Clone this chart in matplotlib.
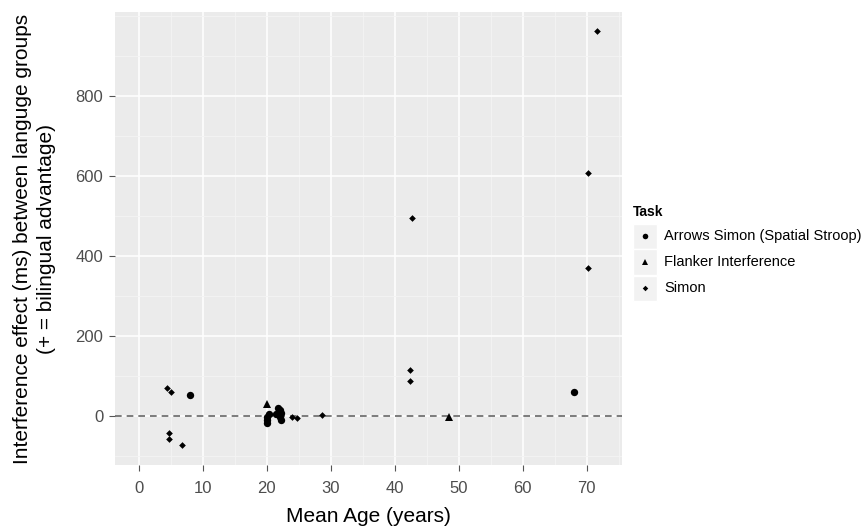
import matplotlib
matplotlib.use("Agg")
import matplotlib.pyplot as plt
from matplotlib.ticker import FixedLocator
from matplotlib.patches import Rectangle
from matplotlib.lines import Line2D

plt.rcParams['font.family'] = ['Liberation Sans', 'DejaVu Sans']

# Mean age (years) and interference effect (ms) per task
arrows_age = [8.0, 20.0, 20.0, 20.0, 20.3, 21.5, 22.0, 22.2, 22.0, 22.3, 21.8, 68.0]
arrows_eff = [52, -2, -10, -18, 5, 5, 15, 8, -2, -10, 20, 60]

flanker_age = [20.0, 48.4]
flanker_eff = [30, -2]

simon_age = [4.4, 5.0, 4.8, 4.7, 6.7, 23.9, 24.8, 28.7, 42.7, 42.4, 42.4, 70.2, 70.2, 71.6]
simon_eff = [70, 60, -42, -57, -72, -3, -5, 2, 495, 115, 88, 607, 370, 962]

tasks = ["Arrows Simon (Spatial Stroop)", "Flanker Interference", "Simon"]
markers = ['o', '^', 'D']
msizes = [5.3, 5.5, 3.4]
legend_sizes = [4, 5, 2.8]

x_ticks = [0, 10, 20, 30, 40, 50, 60, 70]
x_minor = [5, 15, 25, 35, 45, 55, 65, 75]
y_ticks = [0, 200, 400, 600, 800]
y_minor = [-100, 100, 300, 500, 700, 900, 1000]

fig = plt.figure(figsize=(8.67, 5.3), dpi=100)
ax = fig.add_axes([115 / 867, 1 - 465 / 530, 507 / 867, 453 / 530])
ax.set_facecolor('#EBEBEB')
for s in ax.spines.values():
    s.set_visible(False)

ax.set_xlim(-3.7, 75.5)
ax.set_ylim(-122, 1010)
ax.xaxis.set_major_locator(FixedLocator(x_ticks))
ax.xaxis.set_minor_locator(FixedLocator(x_minor))
ax.yaxis.set_major_locator(FixedLocator(y_ticks))
ax.yaxis.set_minor_locator(FixedLocator(y_minor))
ax.grid(which='major', color='white', linewidth=1.1)
ax.grid(which='minor', color='#F4F4F4', linewidth=0.6)
ax.set_axisbelow(True)
ax.tick_params(which='major', length=4.5, width=0.8, color='#555555',
               labelsize=12, labelcolor='#4D4D4D')
ax.tick_params(axis='y', pad=4)
ax.tick_params(axis='x', pad=7)
ax.tick_params(which='minor', length=0)

ax.axhline(0, color='#666666', linewidth=1.2, linestyle=(0, (4, 3)), zorder=2)

groups = [(arrows_age, arrows_eff), (flanker_age, flanker_eff), (simon_age, simon_eff)]
for (xs, ys), m, ms in zip(groups, markers, msizes):
    ax.plot(xs, ys, linestyle='none', marker=m, markersize=ms,
            color='black', markeredgewidth=0, zorder=3)

ax.set_xlabel('Mean Age (years)', fontsize=15, labelpad=8)
ax.set_ylabel('Interference effect (ms) between languge groups\n(+ = bilingual advantage)',
              fontsize=15, labelpad=14, linespacing=1.3)

# legend
fig.text(633 / 867, 1 - 212 / 530, 'Task', fontsize=10, fontweight='bold', va='center')
for i, (lab, m, ms) in enumerate(zip(tasks, markers, legend_sizes)):
    yc = 1 - (236 + 26 * i) / 530
    fig.patches.append(Rectangle((633 / 867, yc - 12.5 / 530), 24 / 867, 25 / 530,
                                 transform=fig.transFigure, facecolor='#F2F2F2',
                                 edgecolor='white', linewidth=1))
    fig.add_artist(Line2D([645 / 867], [yc], marker=m, markersize=ms, color='black',
                          markeredgewidth=0, transform=fig.transFigure))
    fig.text(664 / 867, yc, lab, fontsize=10.5, va='center', color='black')

fig.savefig('out.png', dpi=100)
